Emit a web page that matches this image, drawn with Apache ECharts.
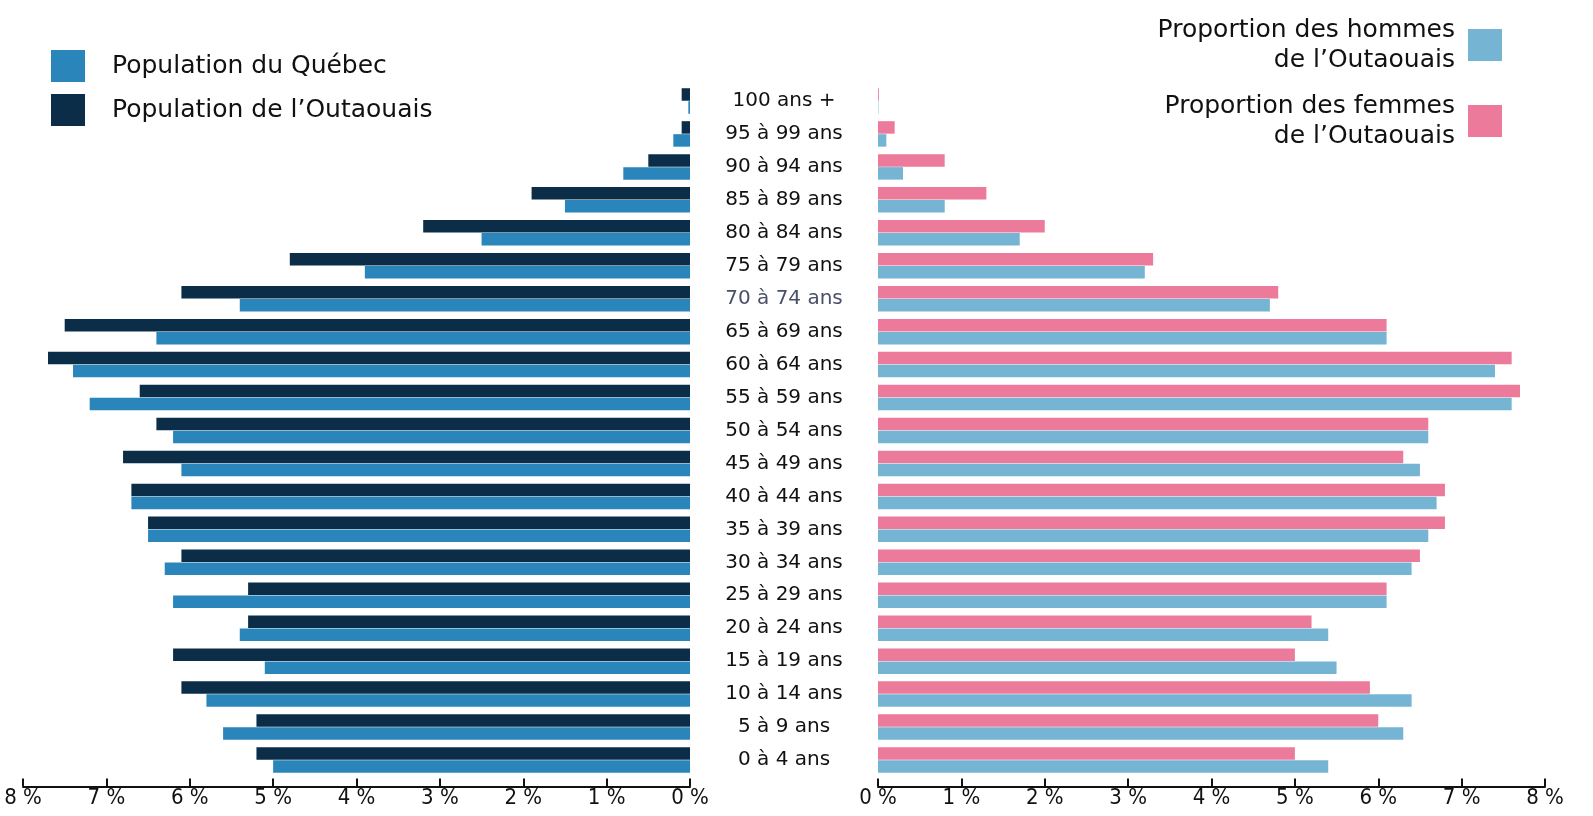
<!DOCTYPE html>
<html><head><meta charset="utf-8">
<script src="https://cdn.jsdelivr.net/npm/echarts@6/dist/echarts.min.js"></script>
<style>html,body{margin:0;padding:0;background:#fff}#c{width:1593px;height:816px}</style>
</head><body><div id="c"></div>
<script>
const categories = ['0 à 4 ans','5 à 9 ans','10 à 14 ans','15 à 19 ans','20 à 24 ans','25 à 29 ans','30 à 34 ans','35 à 39 ans','40 à 44 ans','45 à 49 ans','50 à 54 ans','55 à 59 ans','60 à 64 ans','65 à 69 ans','70 à 74 ans','75 à 79 ans','80 à 84 ans','85 à 89 ans','90 à 94 ans','95 à 99 ans','100 ans +'];
const outaouais = [5.2,5.2,6.1,6.2,5.3,5.3,6.1,6.5,6.7,6.8,6.4,6.6,7.7,7.5,6.1,4.8,3.2,1.9,0.5,0.1,0.1];
const quebec    = [5.0,5.6,5.8,5.1,5.4,6.2,6.3,6.5,6.7,6.1,6.2,7.2,7.4,6.4,5.4,3.9,2.5,1.5,0.8,0.2,0.02];
const femmes    = [5.0,6.0,5.9,5.0,5.2,6.1,6.5,6.8,6.8,6.3,6.6,7.7,7.6,6.1,4.8,3.3,2.0,1.3,0.8,0.2,0.01];
const hommes    = [5.4,6.3,6.4,5.5,5.4,6.1,6.4,6.6,6.7,6.5,6.6,7.6,7.4,6.1,4.7,3.2,1.7,0.8,0.3,0.1,0.005];
const xTicks = [0,1,2,3,4,5,6,7,8];

const FONT = "'DejaVu Sans', 'Noto Sans', sans-serif";
const FONT_AX = "'Liberation Sans Narrow', 'DejaVu Sans Condensed', 'DejaVu Sans', sans-serif";
const C_Q = '#2A86BA', C_O = '#0B2D48', C_H = '#76B4D4', C_F = '#EC7A9B';

const names = {
  q: 'Population du Québec',
  o: 'Population de l’Outaouais',
  h: 'Proportion des hommes de l’Outaouais',
  f: 'Proportion des femmes de l’Outaouais'
};

const xAxisCommon = {
  type: 'value', min: xTicks[0], max: xTicks[xTicks.length-1], interval: 1,
  offset: 10,
  axisLine: {show: true, lineStyle: {color: '#111', width: 2}},
  axisTick: {show: true, inside: true, length: 8, lineStyle: {color: '#111', width: 2}},
  splitLine: {show: false},
  axisLabel: {formatter: '{value} %', color: '#111', fontFamily: FONT_AX, fontSize: 22, margin: 1}
};

const chart = echarts.init(document.getElementById('c'));
chart.setOption({
  animation: false,
  grid: [
    {left: 23, width: 667, top: 84.5, bottom: 39.5},
    {left: 878, width: 667, top: 84.5, bottom: 39.5}
  ],
  xAxis: [
    Object.assign({}, xAxisCommon, {gridIndex: 0, inverse: true}),
    Object.assign({}, xAxisCommon, {gridIndex: 1})
  ],
  yAxis: [
    {type: 'category', gridIndex: 0, data: categories, position: 'right',
     axisLine: {show: false}, axisTick: {show: false},
     axisLabel: {align: 'center', margin: 94, color: '#111', fontFamily: FONT, fontSize: 20,
       formatter: function(v){ return v === '70 à 74 ans' ? '{g|' + v + '}' : v; },
       rich: {g: {color: '#4a5068', fontFamily: FONT, fontSize: 20}}}},
    {type: 'category', gridIndex: 1, data: categories,
     axisLine: {show: false}, axisTick: {show: false}, axisLabel: {show: false}}
  ],
  legend: [
    {data: [names.q, names.o], orient: 'vertical', left: 46, top: 45,
     itemWidth: 34, itemHeight: 32, itemGap: 12, icon: 'rect', selectedMode: false,
     textStyle: {fontFamily: FONT, fontSize: 25, color: '#111', padding: [0,0,0,22]}},
    {data: [names.h, names.f], orient: 'vertical', right: 86, top: 10, align: 'right',
     itemWidth: 34, itemHeight: 32, itemGap: 16, icon: 'rect', selectedMode: false,
     formatter: function(n){ return n.replace(' de l’', '\nde l’'); },
     textStyle: {fontFamily: FONT, fontSize: 25, color: '#111', lineHeight: 30, align: 'right', padding: [0,8,0,0]}}
  ],
  series: [
    {name: names.o, type: 'bar', xAxisIndex: 0, yAxisIndex: 0, data: outaouais,
     barWidth: 12.5, barGap: '4%', itemStyle: {color: C_O}},
    {name: names.q, type: 'bar', xAxisIndex: 0, yAxisIndex: 0, data: quebec,
     barWidth: 12.5, barGap: '4%', itemStyle: {color: C_Q}},
    {name: names.f, type: 'bar', xAxisIndex: 1, yAxisIndex: 1, data: femmes,
     barWidth: 12.5, barGap: '4%', itemStyle: {color: C_F}},
    {name: names.h, type: 'bar', xAxisIndex: 1, yAxisIndex: 1, data: hommes,
     barWidth: 12.5, barGap: '4%', itemStyle: {color: C_H}}
  ]
});
</script></body></html>
